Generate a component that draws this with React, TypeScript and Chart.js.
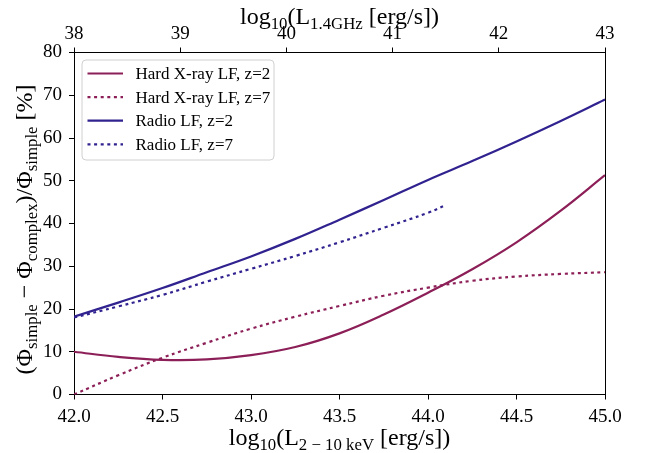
import React, { useEffect, useRef } from "react";
import { Chart, registerables } from "chart.js";

Chart.register(...registerables);

// ---- data ----
const xrayX = [42.0, 42.25, 42.5, 42.75, 43.0, 43.25, 43.5, 43.75, 44.0, 44.25, 44.5, 44.75, 45.0];
const hardXrayZ2 = [10.0, 8.8, 8.1, 8.2, 9.2, 11.1, 14.3, 18.7, 23.8, 29.3, 35.6, 43.0, 51.3];
const hardXrayZ7 = [0.0, 4.5, 8.6, 12.1, 15.4, 18.2, 20.7, 23.1, 25.0, 26.6, 27.6, 28.2, 28.6];
const radioZ2 = [18.2, 21.5, 24.9, 28.6, 32.3, 36.4, 40.9, 45.5, 50.2, 54.6, 59.2, 64.0, 69.0];
const radioZ7X = [42.0, 42.25, 42.5, 42.75, 43.0, 43.25, 43.5, 43.75, 44.0, 44.1];
const radioZ7 = [18.0, 20.6, 23.3, 26.4, 29.4, 32.4, 35.6, 39.0, 42.5, 44.3];

const seriesLabels = ["Hard X-ray LF, z=2", "Hard X-ray LF, z=7", "Radio LF, z=2", "Radio LF, z=7"];
const bottomTicks = [42.0, 42.5, 43.0, 43.5, 44.0, 44.5, 45.0];
const topTicks = [38, 39, 40, 41, 42, 43];
const yTicks = [0, 10, 20, 30, 40, 50, 60, 70, 80];

const RED = "#8c1f57";
const BLUE = "#30228f";
const DOT = [3, 3.6];
const FONT = '"Liberation Serif", "Times New Roman", serif';

const pts = (xs: number[], ys: number[]) => xs.map((x, i) => ({ x, y: ys[i] }));

type Part = { t: string; sub?: boolean };

function drawRich(ctx: CanvasRenderingContext2D, parts: Part[], cx: number, y: number, size: number) {
  const main = `${size}px ${FONT}`;
  const sub = `${size * 0.7}px ${FONT}`;
  let total = 0;
  const widths = parts.map((p) => {
    ctx.font = p.sub ? sub : main;
    const w = ctx.measureText(p.t).width;
    total += w;
    return w;
  });
  let x = cx - total / 2;
  ctx.textAlign = "left";
  ctx.textBaseline = "alphabetic";
  ctx.fillStyle = "#000";
  parts.forEach((p, i) => {
    ctx.font = p.sub ? sub : main;
    ctx.fillText(p.t, x, y + (p.sub ? size * 0.22 : 0));
    x += widths[i];
  });
}

const decorPlugin = {
  id: "decor",
  afterDraw(chart: any) {
    const ctx: CanvasRenderingContext2D = chart.ctx;
    const a = chart.chartArea;
    ctx.save();
    // right spine
    ctx.strokeStyle = "#000";
    ctx.lineWidth = 1;
    ctx.beginPath();
    ctx.moveTo(Math.round(a.right) + 0.5, a.top);
    ctx.lineTo(Math.round(a.right) + 0.5, a.bottom);
    ctx.stroke();

    const cx = (a.left + a.right) / 2;
    // bottom title
    drawRich(ctx, [{ t: "log" }, { t: "10", sub: true }, { t: "(L" }, { t: "2 − 10 keV", sub: true }, { t: " [erg/s])" }], cx, 445, 24);
    // top title
    drawRich(ctx, [{ t: "log" }, { t: "10", sub: true }, { t: "(L" }, { t: "1.4GHz", sub: true }, { t: " [erg/s])" }], cx, 24, 24);
    // y title
    ctx.save();
    ctx.translate(32, (a.top + a.bottom) / 2 + 6);
    ctx.rotate(-Math.PI / 2);
    drawRich(
      ctx,
      [
        { t: "(Φ" }, { t: "simple", sub: true }, { t: " − Φ" }, { t: "complex", sub: true },
        { t: ")/Φ" }, { t: "simple", sub: true }, { t: " [%]" },
      ],
      0, 0, 24
    );
    ctx.restore();

    // legend
    const lx = a.left + 8;
    const ly = a.top + 7.5;
    const lw = 192;
    const lh = 100;
    ctx.beginPath();
    const r = 4;
    ctx.moveTo(lx + r, ly);
    ctx.arcTo(lx + lw, ly, lx + lw, ly + lh, r);
    ctx.arcTo(lx + lw, ly + lh, lx, ly + lh, r);
    ctx.arcTo(lx, ly + lh, lx, ly, r);
    ctx.arcTo(lx, ly, lx + lw, ly, r);
    ctx.closePath();
    ctx.fillStyle = "rgba(255,255,255,0.8)";
    ctx.fill();
    ctx.strokeStyle = "#d0d0d0";
    ctx.lineWidth = 1;
    ctx.stroke();
    chart.data.datasets.forEach((ds: any, i: number) => {
      const yy = ly + 13.5 + i * 23.6;
      ctx.save();
      ctx.strokeStyle = ds.borderColor;
      ctx.lineWidth = ds.borderWidth;
      ctx.setLineDash(ds.borderDash || []);
      ctx.lineCap = "butt";
      ctx.beginPath();
      ctx.moveTo(lx + 5.5, yy);
      ctx.lineTo(lx + 41, yy);
      ctx.stroke();
      ctx.restore();
      ctx.font = `17px ${FONT}`;
      ctx.fillStyle = "#000";
      ctx.textAlign = "left";
      ctx.textBaseline = "middle";
      ctx.fillText(ds.label, lx + 53.5, yy + 1);
    });
    ctx.restore();
  },
};

export default function App() {
  const ref = useRef<HTMLCanvasElement | null>(null);
  useEffect(() => {
    if (!ref.current) return;
    const tickFont = { family: FONT, size: 19 };
    const axisCommon = {
      grid: { display: true, drawOnChartArea: false, drawTicks: true, tickLength: 5, tickWidth: 1, tickColor: "#000" },
      border: { display: true, color: "#000", width: 1 },
    };
    const lineCommon = { borderWidth: 2.2, pointRadius: 0, tension: 0.4, fill: false, borderCapStyle: "butt" };
    const chart = new Chart(ref.current, {
      type: "line",
      data: {
        datasets: [
          { label: seriesLabels[0], data: pts(xrayX, hardXrayZ2), borderColor: RED, ...lineCommon },
          { label: seriesLabels[1], data: pts(xrayX, hardXrayZ7), borderColor: RED, borderDash: DOT, ...lineCommon },
          { label: seriesLabels[2], data: pts(xrayX, radioZ2), borderColor: BLUE, ...lineCommon },
          { label: seriesLabels[3], data: pts(radioZ7X, radioZ7), borderColor: BLUE, borderDash: DOT, ...lineCommon },
        ] as any,
      },
      options: {
        animation: false,
        responsive: false,
        events: [],
        layout: { padding: { left: 0, right: 44, top: 0, bottom: 0 } },
        plugins: { legend: { display: false }, tooltip: { enabled: false } },
        scales: {
          x: {
            type: "linear",
            position: "bottom",
            min: bottomTicks[0],
            max: bottomTicks[bottomTicks.length - 1],
            afterBuildTicks: (s: any) => { s.ticks = bottomTicks.map((v) => ({ value: v })); },
            afterFit: (s: any) => { s.height = 58.5; },
            ticks: { font: tickFont, color: "#000", padding: 6, maxRotation: 0, callback: (v: any) => Number(v).toFixed(1) },
            ...axisCommon,
          },
          x2: {
            type: "linear",
            position: "top",
            min: topTicks[0],
            max: topTicks[topTicks.length - 1],
            afterBuildTicks: (s: any) => { s.ticks = topTicks.map((v) => ({ value: v })); },
            afterFit: (s: any) => { s.height = 52.5; },
            ticks: { font: tickFont, color: "#000", padding: 2, maxRotation: 0, callback: (v: any) => String(v) },
            ...axisCommon,
          },
          y: {
            type: "linear",
            min: yTicks[0],
            max: yTicks[yTicks.length - 1],
            afterBuildTicks: (s: any) => { s.ticks = yTicks.map((v) => ({ value: v })); },
            afterFit: (s: any) => { s.width = 74; },
            ticks: { font: tickFont, color: "#000", padding: 7, callback: (v: any) => String(v) },
            ...axisCommon,
          },
        },
      } as any,
      plugins: [decorPlugin],
    });
    return () => chart.destroy();
  }, []);
  return (
    <div style={{ position: "fixed", left: 0, top: 0, width: 649, height: 453, background: "#fff" }}>
      <canvas ref={ref} width={649} height={453} style={{ display: "block" }} />
    </div>
  );
}
